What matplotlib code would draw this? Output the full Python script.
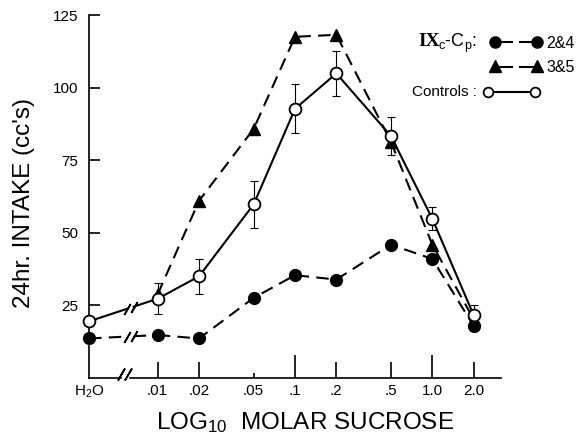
import numpy as np
import matplotlib.pyplot as plt
from matplotlib.lines import Line2D

plt.rcParams['font.family'] = ['Liberation Sans', 'DejaVu Sans']
plt.rcParams['mathtext.fontset'] = 'custom'
plt.rcParams['mathtext.rm'] = 'Liberation Sans'
plt.rcParams['mathtext.it'] = 'Liberation Sans:italic'
plt.rcParams['mathtext.bf'] = 'Liberation Serif:bold'

# sucrose concentrations (M); water is put half a decade left of .01
conc = [0.01, 0.02, 0.05, 0.1, 0.2, 0.5, 1.0, 2.0]
tick_labels = ['H$_2$O', '.01', '.02', '.05', '.1', '.2', '.5', '1.0', '2.0']

# controls (open circles, with error bars)
controls_water = 19.5
controls = [27.3, 35.0, 59.8, 92.7, 104.9, 83.3, 54.8, 21.6]
controls_err = [5.3, 6.0, 8.0, 8.4, 7.7, 6.5, 4.0, 3.7]

# IXc-Cp groups 2&4 (filled circles) and 3&5 (triangles)
grp24_water = 13.6
grp24 = [14.8, 13.6, 27.6, 35.4, 33.9, 45.9, 41.0, 17.9]
grp35 = [28.8, 61.0, 85.8, 117.5, 118.2, 81.3, 45.9, 20.2]

water_x = -2.5   # where H2O sits on the log axis
brk = -2.2       # where the lines are broken between H2O and .01
half = 0.025

x = np.log10(conc)
dash = (6, 3.5)

fig = plt.figure(figsize=(5.84, 4.41), dpi=100)
ax = fig.add_axes([0.1524, 0.1429, 0.7055, 0.823])


def broken_segment(y0, y1, style):
    # line from water to .01 with a // break in it
    xa, xb = brk - half, brk + half
    ya = y0 + (y1 - y0) * (xa - water_x) / (x[0] - water_x)
    yb = y0 + (y1 - y0) * (xb - water_x) / (x[0] - water_x)
    ax.plot([water_x, xa], [y0, ya], color='k', lw=1.5, **style, clip_on=False)
    ax.plot([xb, x[0]], [yb, y1], color='k', lw=1.5, **style, clip_on=False)
    ax.plot([xa, xb], [ya, yb], ls='none', marker=(2, 2, -30), ms=9,
            mec='k', mew=1.2, clip_on=False)


# group 2&4
broken_segment(grp24_water, grp24[0], dict(dashes=dash))
ax.plot(x, grp24, color='k', lw=1.5, dashes=dash, marker='o', ms=8.5,
        mfc='k', mec='k', clip_on=False, zorder=3)
ax.plot([water_x], [grp24_water], marker='o', ms=8.5, color='k', clip_on=False, zorder=4)

# group 3&5
ax.plot(x, grp35, color='k', lw=1.5, dashes=dash, marker='^', ms=9,
        mfc='k', mec='k', clip_on=False, zorder=3)

# controls
broken_segment(controls_water, controls[0], dict(ls='-'))
ax.errorbar(x, controls, yerr=controls_err, fmt='none', ecolor='k',
            elinewidth=0.8, capsize=3, capthick=0.8, zorder=2)
ax.plot(x, controls, color='k', lw=1.5, marker='o', ms=8.5, mfc='white',
        mec='k', mew=1.3, clip_on=False, zorder=5)
ax.plot([water_x], [controls_water], marker='o', ms=8.5, mfc='white',
        mec='k', mew=1.3, clip_on=False, zorder=5)

ax.set_xlim(water_x, 0.5)
ax.set_ylim(0, 125)

for s in ['top', 'right', 'bottom']:
    ax.spines[s].set_visible(False)
ax.spines['left'].set_linewidth(1.2)

# bottom axis drawn with a break
xt = ax.get_xaxis_transform()
ax.plot([water_x, brk - 0.04 - half], [0, 0], color='k', lw=1.2, transform=xt, clip_on=False)
ax.plot([brk - 0.04 + half + 0.01, 0.5], [0, 0], color='k', lw=1.2, transform=xt, clip_on=False)
ax.plot([brk - 0.04 - half, brk - 0.04 + half], [0.01, 0.01], ls='none',
        marker=(2, 2, -30), ms=10, mec='k', mew=1.2, transform=xt, clip_on=False)

ax.set_xticks([water_x] + list(x))
ax.set_xticklabels(tick_labels)
ax.tick_params(axis='x', direction='in', width=1.2, pad=4, labelsize=11)
tick_len = [0, 11.5, 11.5, 3.6, 16.5, 11.5, 11.5, 16.5, 11.5]
for t, ln in zip(ax.xaxis.get_major_ticks(), tick_len):
    t.tick1line.set_markersize(ln)

ax.set_yticks([25, 50, 75, 100, 125])
ax.tick_params(axis='y', direction='in', length=8, width=1.2, pad=8, labelsize=11)

fig.text(24 / 584, 1 - 203 / 441, "24hr. INTAKE (cc's)", rotation=90,
         ha='center', va='center', fontsize=17.5)
fig.text(305 / 584, 1 - 423 / 441, r'LOG$_{\mathrm{10}}$  MOLAR SUCROSE',
         ha='center', va='center', fontsize=17.5)


# legend, drawn by hand
def fy(py):
    return 1 - py / 441


def fx(px):
    return px / 584


fig.text(fx(418), fy(42), 'IX', ha='left', va='center', fontsize=14,
         family='Liberation Serif', weight='bold')
fig.text(fx(438), fy(43), r'$_{\mathrm{c}}$-C$_{\mathrm{p}}$:', ha='left',
         va='center', fontsize=13)
fig.add_artist(Line2D([fx(495), fx(512)], [fy(42), fy(42)], color='k', lw=1.5,
                      transform=fig.transFigure))
fig.add_artist(Line2D([fx(520), fx(537)], [fy(42), fy(42)], color='k', lw=1.5,
                      transform=fig.transFigure))
fig.add_artist(Line2D([fx(495), fx(537)], [fy(42), fy(42)], ls='none', marker='o',
                      ms=8, color='k', transform=fig.transFigure))
fig.text(fx(546), fy(43), '2&4', ha='left', va='center', fontsize=11.5)

fig.add_artist(Line2D([fx(495), fx(512)], [fy(67), fy(67)], color='k', lw=1.5,
                      transform=fig.transFigure))
fig.add_artist(Line2D([fx(520), fx(537)], [fy(67), fy(67)], color='k', lw=1.5,
                      transform=fig.transFigure))
fig.add_artist(Line2D([fx(495), fx(537)], [fy(66), fy(66)], ls='none', marker='^',
                      ms=8.5, color='k', transform=fig.transFigure))
fig.text(fx(546), fy(67), '3&5', ha='left', va='center', fontsize=11.5)

fig.text(fx(412), fy(92), 'Controls :', ha='left', va='center', fontsize=11)
fig.add_artist(Line2D([fx(488), fx(535)], [fy(92), fy(92)], color='k', lw=1.5,
                      marker='o', ms=7, mfc='white', mec='k', mew=1.3,
                      transform=fig.transFigure))

fig.savefig('out.png', dpi=100)
